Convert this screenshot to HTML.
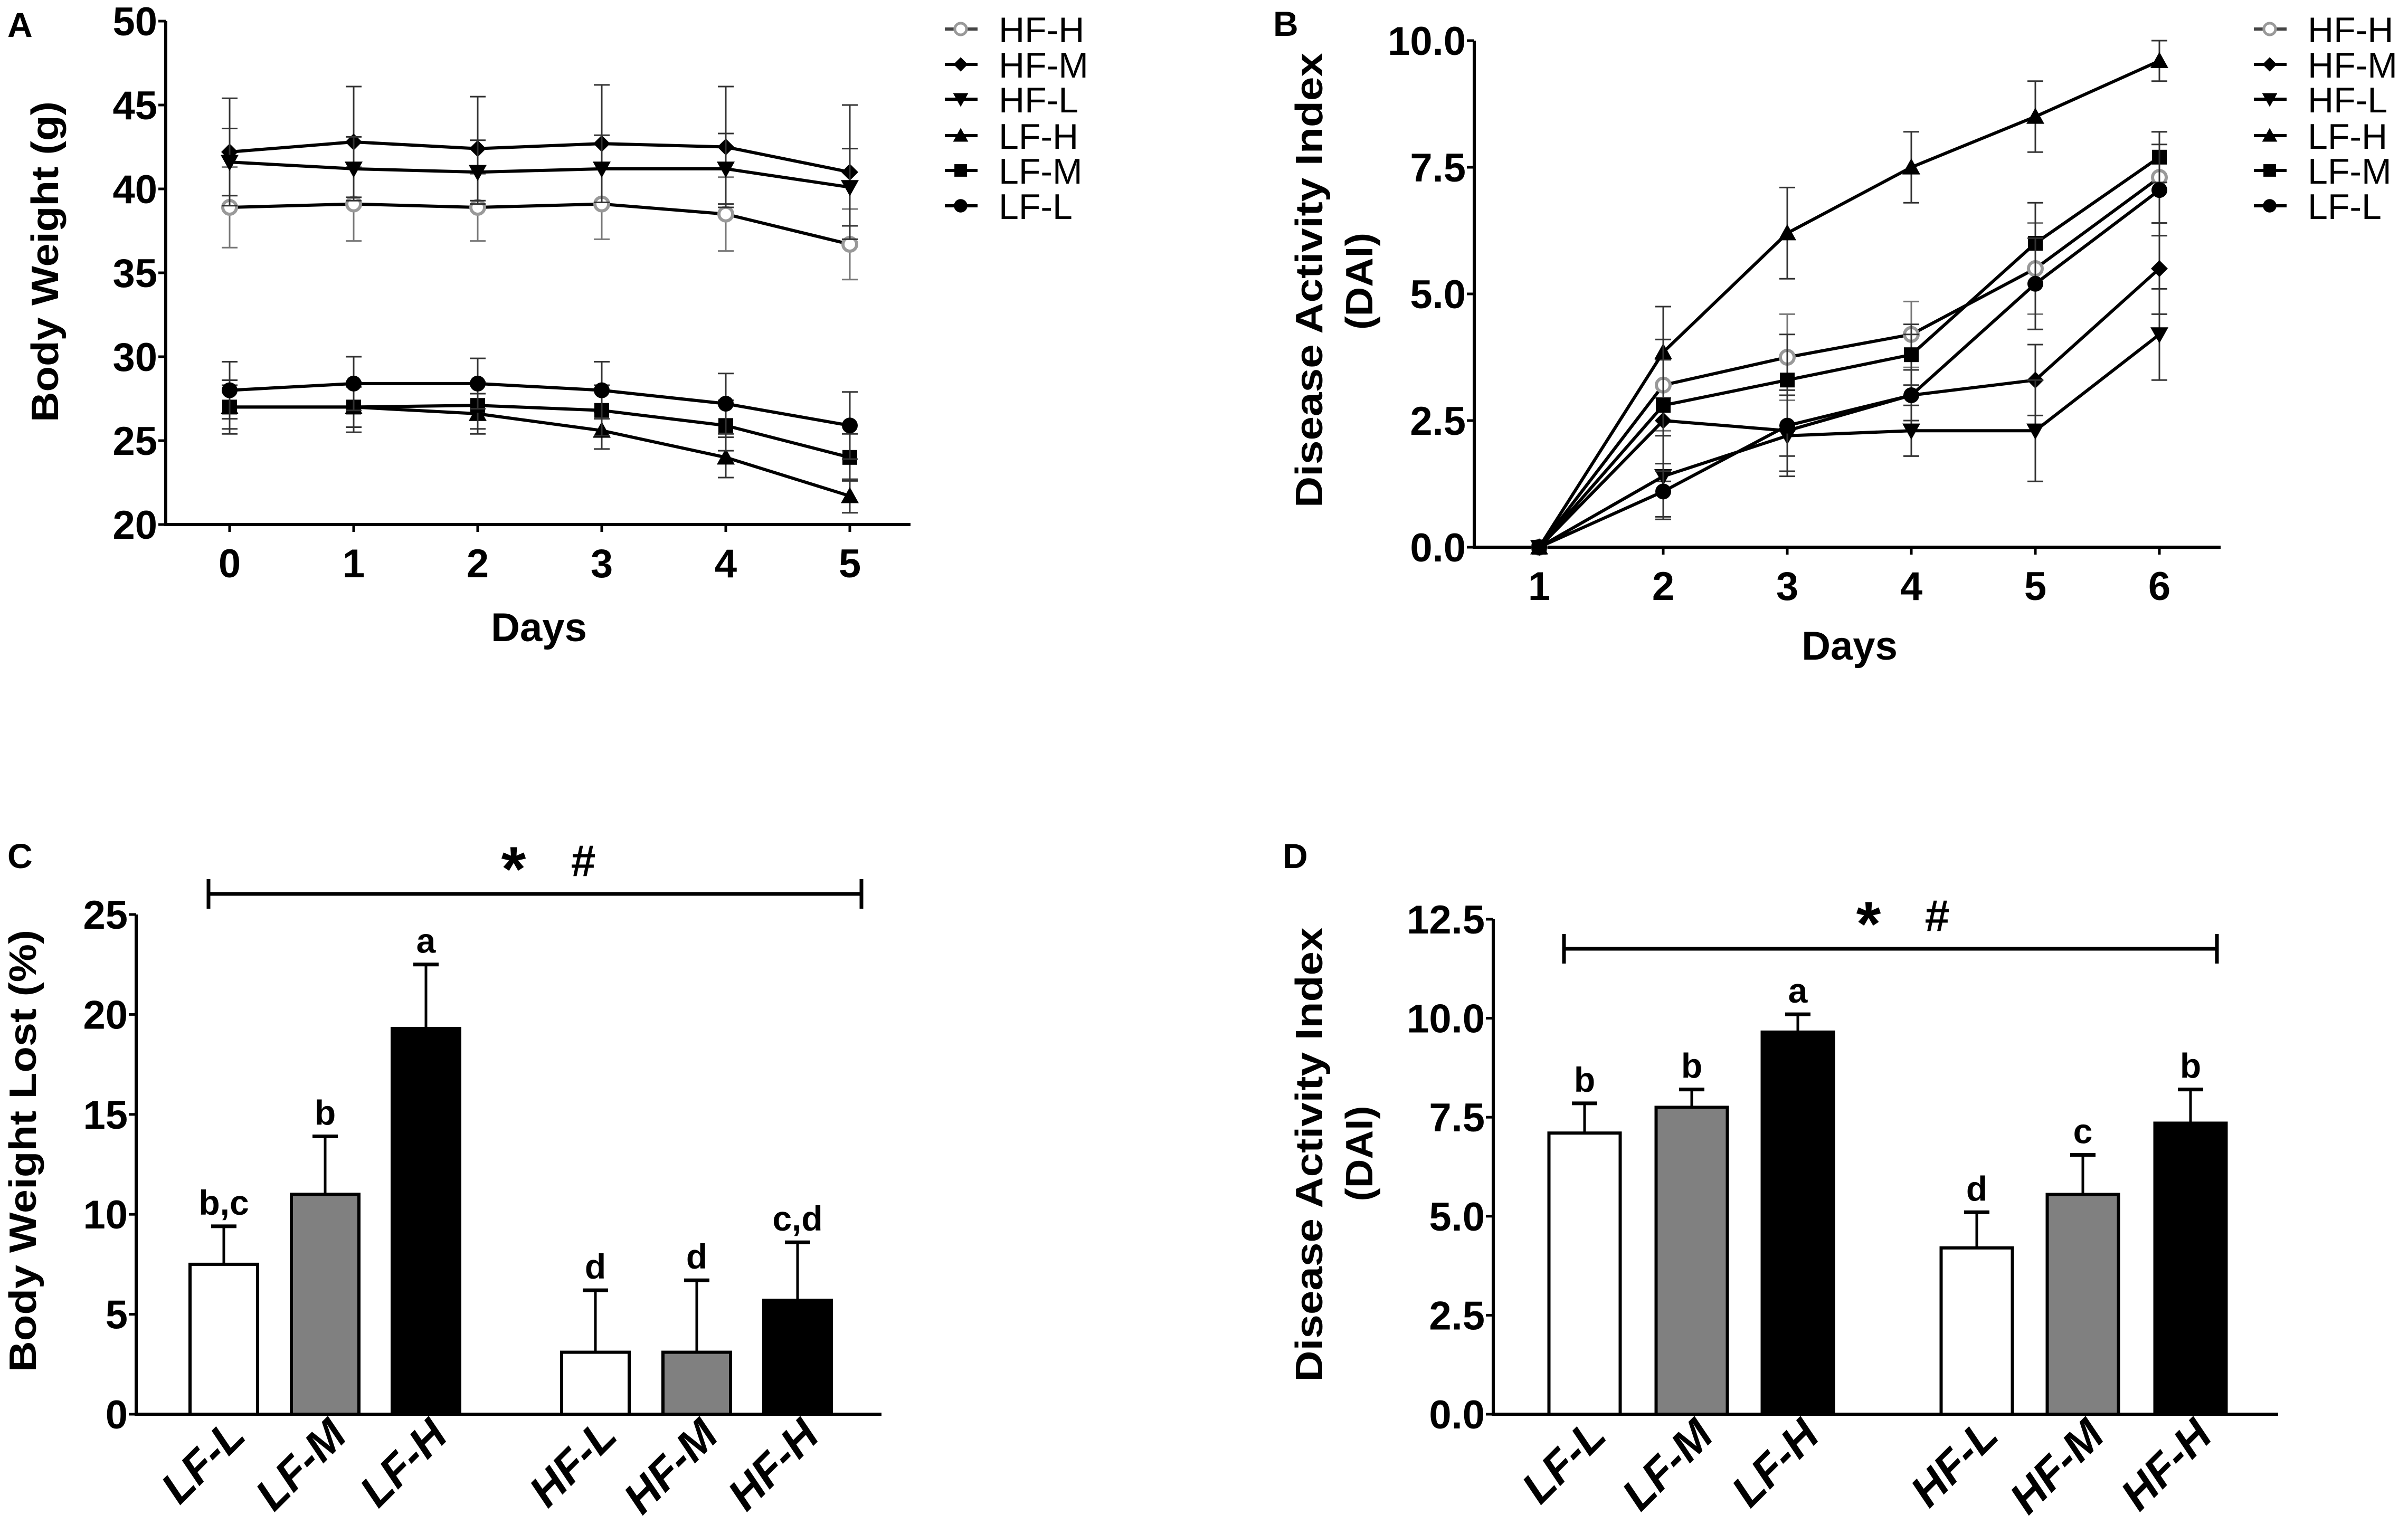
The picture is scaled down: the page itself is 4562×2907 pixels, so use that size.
<!DOCTYPE html>
<html><head><meta charset="utf-8"><style>
html,body{margin:0;padding:0;background:#fff;}
svg{display:block;font-family:"Liberation Sans",sans-serif;}
.tick{font-family:"Liberation Sans Narrow","Liberation Sans",sans-serif;font-weight:bold;font-size:76px;}
.title{font-weight:bold;font-size:72px;}
.leg{font-size:68px;}
.panel{font-weight:bold;font-size:66px;}
.xl{font-weight:bold;font-style:italic;font-size:84px;}
.let{font-family:"Liberation Sans Narrow","Liberation Sans",sans-serif;font-weight:bold;font-size:66px;}
.sig{font-family:"Liberation Sans",sans-serif;font-weight:bold;}
</style></head><body>
<svg id="fig" width="4562" height="2907" viewBox="0 0 4562 2907" xmlns="http://www.w3.org/2000/svg"></svg>
<script>
// ---------- Panel A data ----------
const aDays = [0,1,2,3,4,5];
const aTicks = [20,25,30,35,40,45,50];
const aHFH = [38.9,39.1,38.9,39.1,38.5,36.7];
const aHFHerr = [2.4,2.2,2.0,2.1,2.2,2.1];
const aHFM = [42.2,42.8,42.4,42.7,42.5,41.0];
const aHFMerr = [3.2,3.3,3.1,3.5,3.6,4.0];
const aHFL = [41.6,41.2,41.0,41.2,41.2,40.1];
const aHFLerr = [2.0,1.9,1.9,2.0,2.1,2.3];
const aLFH = [27.0,27.0,26.6,25.6,24.0,21.7];
const aLFHerr = [1.3,1.2,1.2,1.1,1.2,1.0];
const aLFM = [27.0,27.0,27.1,26.8,25.9,24.0];
const aLFMerr = [1.6,1.5,1.4,1.5,1.5,1.4];
const aLFL = [28.0,28.4,28.4,28.0,27.2,25.9];
const aLFLerr = [1.7,1.6,1.5,1.7,1.8,2.0];
// ---------- Panel B data ----------
const bDays = [1,2,3,4,5,6];
const bTicks = [0,2.5,5,7.5,10];
const bTickLabels = ["0.0","2.5","5.0","7.5","10.0"];
const bHFH = [0,3.2,3.75,4.2,5.5,7.3];
const bHFHerr = [0,0.9,0.85,0.65,0.9,0.9];
const bHFM = [0,2.5,2.3,3.0,3.3,5.5];
const bHFMerr = [0,1.2,0.8,1.2,0.7,0.9];
const bHFL = [0,1.4,2.2,2.3,2.3,4.2];
const bHFLerr = [0,0.8,0.8,0.5,1.0,0.9];
const bLFH = [0,3.85,6.2,7.5,8.5,9.6];
const bLFHerr = [0,0.9,0.9,0.7,0.7,0.4];
const bLFM = [0,2.8,3.3,3.8,6.0,7.7];
const bLFMerr = [0,1.3,0.9,0.6,0.8,0.5];
const bLFL = [0,1.1,2.4,3.0,5.2,7.05];
const bLFLerr = [0,0.55,0.6,0.5,0.9,0.9];
// ---------- Panel C data ----------
const barCats = ["LF-L","LF-M","LF-H","HF-L","HF-M","HF-H"];
const cVals = [7.5,11.0,19.3,3.1,3.1,5.7];
const cErr = [1.9,2.9,3.2,3.1,3.6,2.9];
const cLetters = ["b,c","b","a","d","d","c,d"];
const cTicks = [0,5,10,15,20,25];
// ---------- Panel D data ----------
const dVals = [7.1,7.75,9.65,4.2,5.55,7.35];
const dErr = [0.75,0.45,0.45,0.9,1.0,0.85];
const dLetters = ["b","b","a","d","c","b"];
const dTicks = [0,2.5,5,7.5,10,12.5];
const dTickLabels = ["0.0","2.5","5.0","7.5","10.0","12.5"];
const barFills = ["#fff","#808080","#000","#fff","#808080","#000"];

const NS = "http://www.w3.org/2000/svg";
const svg = document.getElementById('fig');
function el(tag, attrs, parent, text){
  const e = document.createElementNS(NS, tag);
  for (const k in attrs) e.setAttribute(k, attrs[k]);
  if (text !== undefined) e.textContent = text;
  (parent||svg).appendChild(e);
  return e;
}
function lin(d0,d1,r0,r1){return v=>r0+(v-d0)*(r1-r0)/(d1-d0);}

function marker(g, type, x, y, s){
  let m;
  if (type==='ocircle'){ m = el('circle',{cx:x,cy:y,r:13*s,fill:'#fff',stroke:'#999','stroke-width':6*s},g); }
  else if (type==='circle'){ m = el('circle',{cx:x,cy:y,r:15*s,fill:'#000'},g); }
  else if (type==='diamond'){ const r=16*s; m = el('polygon',{points:`${x},${y-r} ${x+r},${y} ${x},${y+r} ${x-r},${y}`,fill:'#000'},g); }
  else if (type==='down'){ const r=17*s; m = el('polygon',{points:`${x-r},${y-r*0.8} ${x+r},${y-r*0.8} ${x},${y+r}`,fill:'#000'},g); }
  else if (type==='up'){ const r=17*s; m = el('polygon',{points:`${x-r},${y+r*0.8} ${x+r},${y+r*0.8} ${x},${y-r}`,fill:'#000'},g); }
  else if (type==='square'){ const r=14*s; m = el('rect',{x:x-r,y:y-r,width:2*r,height:2*r,fill:'#000'},g); }
  
  
}

function errbar(g, x, y1, y2, col){
  const e = el('path',{d:`M${x},${y1}V${y2}M${x-15},${y1}H${x+15}M${x-15},${y2}H${x+15}`,stroke:col,'stroke-width':3,fill:'none'},g);
  
  
}

function linePanel(cfg){
  const g = el('g',{});
  
  
  const X = lin(cfg.days[0],cfg.days[cfg.days.length-1],cfg.x0,cfg.x1);
  const Y = lin(cfg.ymin,cfg.ymax,cfg.yb,cfg.yt);
  const ya = el('line',{x1:cfg.ax,y1:cfg.yt,x2:cfg.ax,y2:cfg.yb+3,stroke:'#000','stroke-width':6},g);
   
  const xa = el('line',{x1:cfg.ax-3,y1:cfg.yb,x2:cfg.axEnd,y2:cfg.yb,stroke:'#000','stroke-width':6},g);
   
  cfg.ticks.forEach((t,i)=>{
    const y = Y(t);
    el('line',{x1:cfg.ax-14,y1:y,x2:cfg.ax,y2:y,stroke:'#000','stroke-width':5},g);
    const tx = el('text',{x:cfg.ax-16,y:y+27,'text-anchor':'end',class:'tick'},g,cfg.tickLabels?cfg.tickLabels[i]:String(t));
     
  });
  cfg.days.forEach(d=>{
    const x = X(d);
    el('line',{x1:x,y1:cfg.yb,x2:x,y2:cfg.yb+14,stroke:'#000','stroke-width':5},g);
    const tx = el('text',{x:x,y:cfg.yb+100,'text-anchor':'middle',class:'tick'},g,String(d));
     
  });
  const xt = el('text',{x:cfg.xtX,y:cfg.xtY,'text-anchor':'middle',class:'tick','font-size':80},g,'Days');
   
  cfg.series.forEach(s=>{
    const sg = el('g',{},g);
    
    
    s.vals.forEach((v,i)=>{ if (s.err[i]>0) errbar(sg, X(cfg.days[i]), Y(v+s.err[i]), Y(v-s.err[i]), s.type==='ocircle'?'#777':'#333'); });
    const pts = s.vals.map((v,i)=>X(cfg.days[i])+','+Y(v)).join(' ');
    const pl = el('polyline',{points:pts,fill:'none',stroke:'#000','stroke-width':6,'stroke-linejoin':'round'},sg);
     
    s.vals.forEach((v,i)=>marker(sg,s.type,X(cfg.days[i]),Y(v),1));
  });
  const lg = el('g',{},g);
   
  const rows = [55,122,188,257,323,390];
  cfg.legend.forEach((s,i)=>{
    const eg = el('g',{},lg);
     
    el('line',{x1:cfg.lx-30,y1:rows[i],x2:cfg.lx+32,y2:rows[i],stroke:s.type==='ocircle'?'#444':'#000','stroke-width':6},eg);
    marker(eg,s.type,cfg.lx,rows[i],0.85);
    el('text',{x:cfg.lx+72,y:rows[i]+25,class:'leg'},eg,s.label);
  });
  return g;
}
const typeOf = {'HF-H':'ocircle','HF-M':'diamond','HF-L':'down','LF-H':'up','LF-M':'square','LF-L':'circle'};

const aSeries = [
  {label:'HF-H',vals:aHFH,err:aHFHerr},{label:'HF-M',vals:aHFM,err:aHFMerr},{label:'HF-L',vals:aHFL,err:aHFLerr},
  {label:'LF-H',vals:aLFH,err:aLFHerr},{label:'LF-M',vals:aLFM,err:aLFMerr},{label:'LF-L',vals:aLFL,err:aLFLerr}];
aSeries.forEach(s=>s.type=typeOf[s.label]);
linePanel({name:'panel-a-body-weight',days:aDays,x0:435,x1:1610,ymin:20,ymax:50,yb:994,yt:40,ax:314,axEnd:1725,
  ticks:aTicks,series:aSeries,legend:aSeries,lx:1820,xtX:1021,xtY:1215});
const bSeries = [
  {label:'HF-H',vals:bHFH,err:bHFHerr},{label:'HF-M',vals:bHFM,err:bHFMerr},{label:'HF-L',vals:bHFL,err:bHFLerr},
  {label:'LF-H',vals:bLFH,err:bLFHerr},{label:'LF-M',vals:bLFM,err:bLFMerr},{label:'LF-L',vals:bLFL,err:bLFLerr}];
bSeries.forEach(s=>s.type=typeOf[s.label]);
linePanel({name:'panel-b-dai',days:bDays,x0:2916,x1:4091,ymin:0,ymax:10,yb:1037,yt:77,ax:2793,axEnd:4207,
  ticks:bTicks,tickLabels:bTickLabels,series:bSeries,legend:bSeries,lx:4300,xtX:3504,xtY:1250});

function barPanel(cfg){
  const g = el('g',{});
  
  
  const Y = lin(0,cfg.ymax,cfg.yb,cfg.yt);
  const ya = el('line',{x1:cfg.ax,y1:cfg.yt,x2:cfg.ax,y2:cfg.yb+3,stroke:'#000','stroke-width':6},g);
   
  const xa = el('line',{x1:cfg.ax-3,y1:cfg.yb,x2:cfg.axEnd,y2:cfg.yb,stroke:'#000','stroke-width':6},g);
   
  cfg.ticks.forEach((t,i)=>{
    const y = Y(t);
    el('line',{x1:cfg.ax-14,y1:y,x2:cfg.ax,y2:y,stroke:'#000','stroke-width':5},g);
    const tx = el('text',{x:cfg.ax-16,y:y+27,'text-anchor':'end',class:'tick'},g,cfg.tickLabels?cfg.tickLabels[i]:String(t));
     
  });
  barCats.forEach((c,i)=>{
    const cx = cfg.centers[i], w = cfg.bw;
    const v = cfg.vals[i], e = cfg.err[i];
    const bg = el('g',{},g);
    
    
    el('line',{x1:cx,y1:Y(v),x2:cx,y2:Y(v+e),stroke:'#000','stroke-width':5},bg);
    el('line',{x1:cx-24,y1:Y(v+e),x2:cx+24,y2:Y(v+e),stroke:'#000','stroke-width':7},bg);
    el('rect',{x:cx-w/2,y:Y(v),width:w,height:cfg.yb-Y(v),fill:barFills[i],stroke:'#000','stroke-width':6},bg);
    const lt = el('text',{x:cx,y:Y(v+e)-22,'text-anchor':'middle',class:'let'},g,cfg.letters[i]);
     
    const xl = el('text',{x:0,y:0,'text-anchor':'end',class:'xl',transform:`translate(${cx+45},${cfg.yb+45}) rotate(-45)`},g,c);
     
  });
  const sb = el('path',{d:`M${cfg.sx0},${cfg.sy}H${cfg.sx1}M${cfg.sx0},${cfg.sy-28}V${cfg.sy+28}M${cfg.sx1},${cfg.sy-28}V${cfg.sy+28}`,stroke:'#000','stroke-width':7,fill:'none'},g);
   
  const st = el('text',{x:cfg.starX,y:cfg.starY+62,'text-anchor':'middle',class:'sig','font-size':120},g,'*');
   
  const ht = el('text',{x:cfg.hashX,y:cfg.starY+34,'text-anchor':'middle',class:'sig','font-size':84},g,'#');
   
}
barPanel({name:'panel-c-weight-loss',ymax:25,yb:2680,yt:1733,ax:258,axEnd:1670,ticks:cTicks,
  centers:[424,616,807,1128,1320,1511],bw:128,vals:cVals,err:cErr,letters:cLetters,
  sx0:395,sx1:1632,sy:1694,starX:973,hashX:1105,starY:1626});
barPanel({name:'panel-d-dai',ymax:12.5,yb:2680,yt:1742,ax:2829,axEnd:4316,ticks:dTicks,tickLabels:dTickLabels,
  centers:[3002,3205,3406,3745,3946,4150],bw:135,vals:dVals,err:dErr,letters:dLetters,
  sx0:2963,sx1:4200,sy:1798,starX:3540,hashX:3670,starY:1730});

function ytitle(x,yc,len,txt,name){
  const t = el('text',{x:0,y:0,'text-anchor':'middle',class:'title',textLength:len,lengthAdjust:'spacingAndGlyphs',transform:`translate(${x},${yc}) rotate(-90)`},svg,txt);
   
}
ytitle(110,496,608,'Body Weight (g)','y-axis-title-a');
ytitle(2505,531,862,'Disease Activity Index','y-axis-title-b');
ytitle(2600,533,184,'(DAI)','y-axis-title-b-unit');
ytitle(68,2181,838,'Body Weight Lost (%)','y-axis-title-c');
ytitle(2505,2188,861,'Disease Activity Index','y-axis-title-d');
ytitle(2600,2186,181,'(DAI)','y-axis-title-d-unit');
[['A',14,70],['B',2412,68],['C',14,1645],['D',2430,1645]].forEach(p=>{
  const t = el('text',{x:p[1],y:p[2],class:'panel'},svg,p[0]);
  
  
});
</script>
</body></html>
